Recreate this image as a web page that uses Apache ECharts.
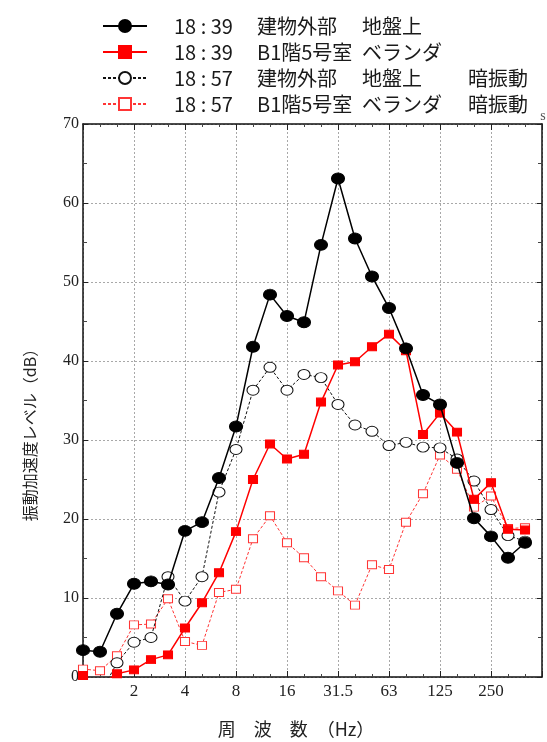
<!DOCTYPE html>
<html>
<head>
<meta charset="utf-8">
<script src="https://cdn.jsdelivr.net/npm/echarts@6/dist/echarts.min.js"></script>
<style>
html,body{margin:0;padding:0;background:#fff;}
#chart{width:547px;height:742px;}
</style>
</head>
<body>
<div id="chart"></div>
<script>
// 1/3 octave band centre frequencies (Hz)
const freqLabels = ['1','1.25','1.6','2','2.5','3.15','4','5','6.3','8','10','12.5','16','20','25','31.5','40','50','63','80','100','125','160','200','250','315','400','500'];
// labels shown at every octave (band index 0,3,6,...,27)
const xTickLabels = ['', '2', '4', '8', '16', '31.5', '63', '125', '250', ''];
const yTickLabels = ['0', '10', '20', '30', '40', '50', '60', '70'];

// legend text parts
const times  = ['18 : 39', '18 : 39', '18 : 57', '18 : 57'];
const places = ['建物外部', 'B1階5号室', '建物外部', 'B1階5号室'];
const points = ['地盤上', 'ベランダ', '地盤上', 'ベランダ'];
const notes  = ['', '', '暗振動', '暗振動'];

// values (dB), one per band from 1 Hz to 400 Hz
const ext1839 = [3.4, 3.2, 8.0, 11.8, 12.1, 11.7, 18.5, 19.6, 25.2, 31.7, 41.8, 48.4, 45.7, 44.9, 54.7, 63.1, 55.5, 50.7, 46.7, 41.6, 35.7, 34.5, 27.1, 20.1, 17.8, 15.1, 17.0];
const b11839  = [0.2, -1.0, 0.4, 0.9, 2.2, 2.8, 6.2, 9.4, 13.2, 18.4, 25.0, 29.5, 27.6, 28.2, 34.8, 39.5, 39.9, 41.8, 43.4, 41.3, 30.7, 33.4, 31.0, 22.5, 24.6, 18.7, 18.6];
const ext1857 = [-3.0, -2.2, 1.8, 4.4, 5.0, 12.7, 9.6, 12.7, 23.4, 28.8, 36.3, 39.2, 36.3, 38.3, 37.9, 34.5, 31.9, 31.1, 29.3, 29.7, 29.1, 29.0, 27.6, 24.8, 21.2, 17.9, 17.2];
const b11857  = [1.0, 0.8, 2.7, 6.6, 6.7, 9.9, 4.5, 4.0, 10.7, 11.1, 17.5, 20.4, 17.0, 15.1, 12.7, 10.9, 9.1, 14.2, 13.6, 19.6, 23.2, 28.1, 26.3, 21.5, 22.9, 18.8, 18.9];

const names = times.map((t, i) => [t, places[i], points[i], notes[i]].join(' ').trim());
const toPairs = arr => arr.map((v, i) => [i, v]);

const chart = echarts.init(document.getElementById('chart'), null, {renderer: 'canvas'});

const serif = 'Liberation Serif, Times New Roman, serif';
const cjk = 'Noto Sans CJK JP, Noto Sans, sans-serif';
const red = '#ff0000';
const pink = '#ff3535';

const xBase = {
  type: 'value', min: 0, max: freqLabels.length - 1, interval: 3,
  axisLine: {show: true, onZero: false, lineStyle: {color: '#111', width: 1.5}},
  axisTick: {show: true, inside: true, length: 6, lineStyle: {color: '#222', width: 1}},
  minorTick: {show: true, splitNumber: 3, length: 3, lineStyle: {color: '#444', width: 1}},
};
const yBase = {
  type: 'value', min: 0, max: 70, interval: 10,
  axisLine: {show: true, onZero: false, lineStyle: {color: '#111', width: 1.5}},
  axisTick: {show: true, inside: true, length: 5, lineStyle: {color: '#222', width: 1}},
  minorTick: {show: true, splitNumber: 2, length: 4, lineStyle: {color: '#444', width: 1}},
};
const gridLine = {show: true, lineStyle: {color: '#a8a8a8', width: 1, type: [2, 2]}};

chart.setOption({
  backgroundColor: '#fff',
  animation: false,
  grid: {left: 83, right: 5, top: 124, bottom: 65, containLabel: false},
  legend: {
    orient: 'vertical', left: 97, top: 11,
    itemWidth: 44, itemHeight: 15, itemGap: 6,
    selectedMode: false,
    data: names,
    formatter: function (name) {
      const i = names.indexOf(name);
      return '{sp| }{a|' + times[i] + '}{b|' + places[i] + '}{c|' + points[i] + '}' + (notes[i] ? '{d|' + notes[i] + '}' : '');
    },
    textStyle: {
      fontFamily: cjk, fontSize: 20, color: '#1a1a1a', lineHeight: 20,
      rich: {
        sp: {width: 22, fontSize: 20},
        a: {width: 83, fontFamily: cjk, fontSize: 20, color: '#1a1a1a'},
        b: {width: 105, fontFamily: cjk, fontSize: 20, color: '#1a1a1a'},
        c: {width: 106, fontFamily: cjk, fontSize: 20, color: '#1a1a1a'},
        d: {fontFamily: cjk, fontSize: 20, color: '#1a1a1a'}
      }
    }
  },
  xAxis: [
    Object.assign({}, xBase, {
      position: 'bottom',
      splitLine: gridLine,
      axisLabel: {
        show: true, margin: 6, fontFamily: serif, fontSize: 17, color: '#222',
        formatter: v => xTickLabels[Math.round(v / 3)] || ''
      }
    }),
    Object.assign({}, xBase, {
      position: 'top',
      splitLine: {show: false},
      axisLabel: {show: false}
    })
  ],
  yAxis: [
    Object.assign({}, yBase, {
      position: 'left',
      splitLine: gridLine,
      axisLabel: {
        show: true, margin: 4, fontFamily: serif, fontSize: 16, color: '#222',
        formatter: v => yTickLabels[Math.round(v / 10)]
      }
    }),
    Object.assign({}, yBase, {
      position: 'right',
      splitLine: {show: false},
      axisLabel: {show: false}
    })
  ],
  graphic: [
    {
      type: 'text', x: 30, y: 431, rotation: Math.PI / 2,
      style: {text: '振動加速度レベル（dB）', font: '16px ' + cjk, fill: '#222', align: 'center', verticalAlign: 'middle'}
    },
    {
      type: 'text', x: 296, y: 729,
      style: {text: '周　波　数　（Hz）', font: '18px ' + cjk, fill: '#222', align: 'center', verticalAlign: 'middle'}
    },
    {
      type: 'text', x: 543, y: 116,
      style: {text: 's', font: '14px ' + serif, fill: '#555', align: 'center', verticalAlign: 'middle'}
    }
  ],
  series: [
    {
      name: names[0], type: 'line', data: toPairs(ext1839), clip: true,
      symbol: 'circle', symbolSize: [13, 11],
      itemStyle: {color: '#000', borderColor: '#000', borderWidth: 1},
      lineStyle: {color: '#000', width: 1.5, type: 'solid'},
      z: 5
    },
    {
      name: names[1], type: 'line', data: toPairs(b11839), clip: true,
      symbol: 'rect', symbolSize: [9, 8],
      itemStyle: {color: red, borderColor: red, borderWidth: 1},
      lineStyle: {color: red, width: 1.5, type: 'solid'},
      z: 4
    },
    {
      name: names[2], type: 'line', data: toPairs(ext1857), clip: true,
      symbol: 'circle', symbolSize: [12, 10],
      itemStyle: {color: '#fff', borderColor: '#111', borderWidth: 1},
      lineStyle: {color: '#111', width: 1, type: [3, 2]},
      z: 3
    },
    {
      name: names[3], type: 'line', data: toPairs(b11857), clip: true,
      symbol: 'rect', symbolSize: [9, 8],
      itemStyle: {color: '#fff', borderColor: pink, borderWidth: 1},
      lineStyle: {color: pink, width: 1, type: [3, 2]},
      z: 2
    }
  ]
});
</script>
</body>
</html>
